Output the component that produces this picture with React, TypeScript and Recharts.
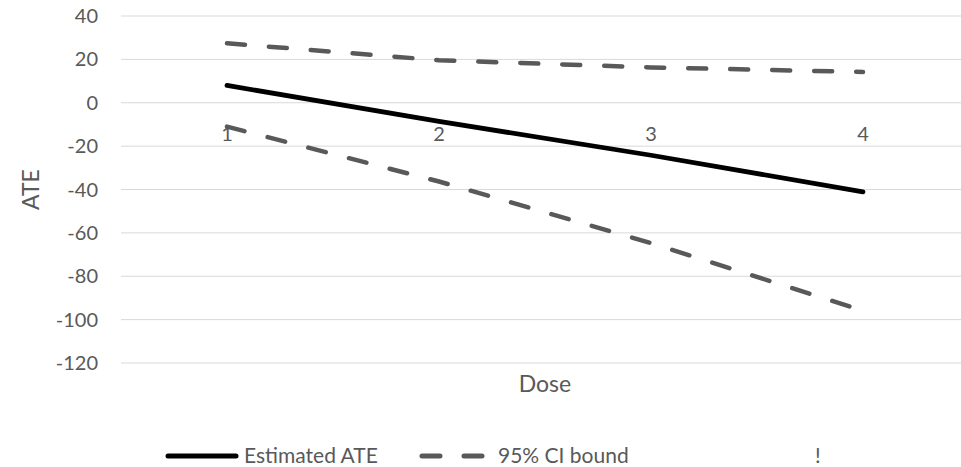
import {
  LineChart,
  Line,
  XAxis,
  YAxis,
  CartesianGrid,
  ReferenceDot,
  Legend,
} from 'recharts';

// Dosi (categorie) e serie
const doses = ['1', '2', '3', '4'];
const estimatedAte = [8, -8.6, -24.2, -41.1];
const ciUpper = [27.4, 19.6, 16.3, 14.2];
const ciLower = [-11, -36.3, -64.7, -95.9];
const yTicks = [-120, -100, -80, -60, -40, -20, 0, 20, 40];

const data = doses.map((dose, i) => ({
  dose,
  ate: estimatedAte[i],
  upper: ciUpper[i],
  lower: ciLower[i],
}));

const FONT = 'Lato, "Open Sans", sans-serif';
const TEXT = '#595959';
const GRAY = '#595959';

function renderLegend() {
  return (
    <svg width={961} height={30} style={{ display: 'block' }}>
      <line x1={168} y1={16} x2={236} y2={16} stroke="#000" strokeWidth={5} strokeLinecap="round" />
      <text x={244} y={16} dy="0.35em" fill={TEXT} fontSize={21} fontFamily={FONT}>
        Estimated ATE
      </text>
      <line
        x1={422}
        y1={16}
        x2={482}
        y2={16}
        stroke={GRAY}
        strokeWidth={5}
        strokeLinecap="round"
        strokeDasharray="18 24"
      />
      <text x={498} y={16} dy="0.35em" fill={TEXT} fontSize={21} fontFamily={FONT}>
        95% CI bound
      </text>
      <text x={815} y={16} dy="0.35em" fill={TEXT} fontSize={21} fontFamily={FONT}>
        !
      </text>
    </svg>
  );
}

export default function App() {
  return (
    <div
      style={{
        position: 'absolute',
        top: 0,
        left: 0,
        width: 961,
        height: 467,
        overflow: 'hidden',
        background: '#fff',
        fontFamily: FONT,
      }}
    >
      <LineChart width={980} height={467} data={data} margin={{ top: 16, right: 11, bottom: 34, left: 0 }}>
        <CartesianGrid vertical={false} stroke="#d9d9d9" strokeWidth={1} />
        <XAxis
          dataKey="dose"
          scale="band"
          tick={false}
          axisLine={false}
          tickLine={false}
          height={40}
          label={{
            content: ({ viewBox }: any) => (
              <text
                x={viewBox.x + viewBox.width / 2}
                y={viewBox.y + 21}
                dy="0.35em"
                textAnchor="middle"
                fill={TEXT}
                fontSize={23}
                fontFamily={FONT}
              >
                Dose
              </text>
            ),
          }}
        />
        <YAxis
          domain={[-120, 40]}
          ticks={yTicks}
          width={121}
          axisLine={false}
          tickLine={false}
          tickMargin={17}
          tick={{ fill: TEXT, fontSize: 20, fontFamily: FONT }}
          label={{
            content: ({ viewBox }: any) => {
              const cx = viewBox.x + 31;
              const cy = viewBox.y + viewBox.height / 2;
              return (
                <text
                  x={cx}
                  y={cy}
                  dy="0.35em"
                  textAnchor="middle"
                  transform={`rotate(-90 ${cx} ${cy})`}
                  fill={TEXT}
                  fontSize={23}
                  fontFamily={FONT}
                >
                  ATE
                </text>
              );
            },
          }}
        />
        {doses.map((d) => (
          <ReferenceDot
            key={d}
            x={d}
            y={0}
            r={0}
            fill="none"
            stroke="none"
            label={{ value: d, position: 'bottom', offset: 24, fill: TEXT, fontSize: 20, fontFamily: FONT }}
          />
        ))}
        <Line
          type="linear"
          dataKey="upper"
          name="95% CI bound"
          stroke={GRAY}
          strokeWidth={4.5}
          strokeDasharray="18 24"
          strokeLinecap="round"
          dot={false}
          isAnimationActive={false}
        />
        <Line
          type="linear"
          dataKey="lower"
          name="95% CI bound"
          stroke={GRAY}
          strokeWidth={4.5}
          strokeDasharray="18 24"
          strokeLinecap="round"
          dot={false}
          isAnimationActive={false}
        />
        <Line
          type="linear"
          dataKey="ate"
          name="Estimated ATE"
          stroke="#000"
          strokeWidth={4.75}
          strokeLinecap="round"
          dot={false}
          isAnimationActive={false}
        />
        <Legend
          verticalAlign="bottom"
          content={renderLegend}
          wrapperStyle={{ top: 440, bottom: 'auto', left: 0, width: 961, height: 30 }}
        />
      </LineChart>
    </div>
  );
}
